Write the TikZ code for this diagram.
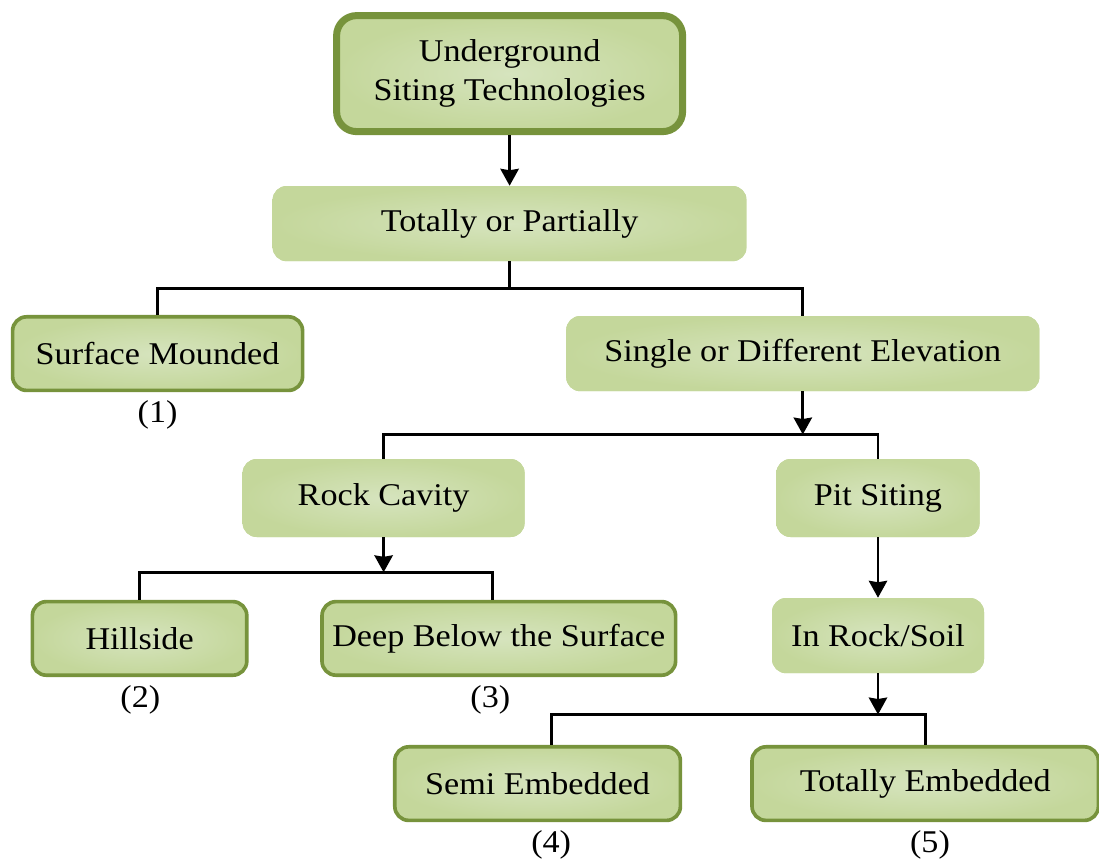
\documentclass[tikz,border=0pt]{standalone}
\usepackage{fontspec}
\setmainfont{Liberation Serif}[FakeStretch=1.08]
\usetikzlibrary{shapes.geometric,arrows.meta}
\definecolor{leaf}{RGB}{196,215,155}
\definecolor{leaflight}{RGB}{214,228,190}
\definecolor{moss}{RGB}{119,147,60}
\tikzstyle{plainbox} = [rectangle, rounded corners=0.35cm, fill=leaf, inner color=leaflight, outer color=leaf, minimum height=1.88cm, font=\fontsize{22.5}{28}\selectfont, align=center]
\tikzstyle{framedbox} = [plainbox, draw=moss, line width=2.6pt, minimum height=1.84cm]
\tikzstyle{headbox} = [framedbox, line width=5pt, rounded corners=0.5cm, minimum height=2.9cm]
\tikzstyle{tag} = [font=\fontsize{22.5}{28}\selectfont]
\tikzstyle{link} = [line width=2pt]
\tikzstyle{arrow} = [link, -{Stealth[length=12pt,width=13pt,inset=1pt]}]
\begin{document}
\begin{tikzpicture}
\useasboundingbox (0,0) rectangle (27.475,-21.525);
\node (root) [headbox, minimum width=8.65cm] at (12.74,-1.84) {Underground\\Siting Technologies};
\node (partial) [plainbox, minimum width=11.85cm, below of=root, yshift=-2.75cm] {Totally or Partially};
\node (mound) [framedbox, minimum width=7.25cm, below of=partial, xshift=-8.8cm, yshift=-2.25cm] {Surface Mounded};
\node (elev) [plainbox, minimum width=11.83cm, below of=partial, xshift=7.33cm, yshift=-2.25cm] {Single or Different Elevation};
\node (rock) [plainbox, minimum width=7.05cm, minimum height=1.95cm, below of=elev, xshift=-10.48cm, yshift=-2.61cm] {Rock Cavity};
\node (pit) [plainbox, minimum width=5.08cm, minimum height=1.95cm, below of=elev, xshift=1.88cm, yshift=-2.61cm] {Pit Siting};
\node (hill) [framedbox, minimum width=5.36cm, below of=rock, xshift=-6.1cm, yshift=-2.51cm] {Hillside};
\node (deep) [framedbox, minimum width=8.84cm, below of=rock, xshift=2.88cm, yshift=-2.51cm] {Deep Below the Surface};
\node (soil) [plainbox, minimum width=5.3cm, below of=pit, yshift=-2.44cm] {In Rock/Soil};
\node (semi) [framedbox, minimum width=7.14cm, below of=soil, xshift=-8.51cm, yshift=-2.7cm] {Semi Embedded};
\node (total) [framedbox, minimum width=8.66cm, below of=soil, xshift=1.18cm, yshift=-2.7cm] {Totally Embedded};
% numbers under the end boxes
\node (n1) [tag, below of=mound, yshift=-0.54cm] {(1)};
\node (n2) [tag, below of=hill, xshift=0.02cm, yshift=-0.54cm] {(2)};
\node (n3) [tag, below of=deep, xshift=-0.21cm, yshift=-0.54cm] {(3)};
\node (n4) [tag, below of=semi, xshift=0.34cm, yshift=-0.54cm] {(4)};
\node (n5) [tag, below of=total, xshift=0.12cm, yshift=-0.54cm] {(5)};
% branch points
\coordinate (bar1) at ([yshift=-0.675cm]partial.south);
\coordinate (bar2) at ([yshift=-1.075cm]elev.south);
\coordinate (bar3) at ([yshift=-0.875cm]rock.south);
\coordinate (bar4) at ([yshift=-1.025cm]soil.south);
\draw[arrow] (root) -- (partial);
\draw[link] (partial) -- (bar1);
\draw[link] (mound.north) |- (bar1) -| (elev.north);
\draw[arrow] (elev) -- (bar2);
\draw[link] (rock.north) |- (bar2) -| (pit.north);
\draw[arrow] (rock) -- (bar3);
\draw[link] (hill.north) |- (bar3) -| ([xshift=-0.16cm]deep.north);
\draw[arrow] (pit) -- (soil);
\draw[arrow] (soil) -- (bar4);
\draw[link] ([xshift=0.34cm]semi.north) |- (bar4) -| (total.north);
\end{tikzpicture}
\end{document}
